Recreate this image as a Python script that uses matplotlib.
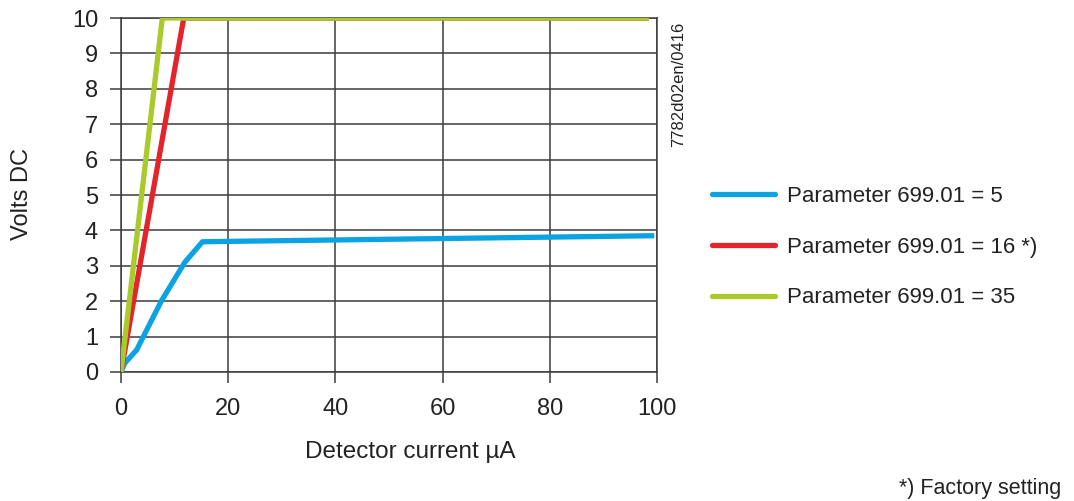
"""Detector current vs output voltage for three settings of parameter 699.01."""

import matplotlib

matplotlib.use("Agg")
import matplotlib.pyplot as plt

# curves (x: detector current in uA, y: volts DC)
p5_x = [0, 0.7, 2.9, 7.5, 11.9, 15.2, 99.5]
p5_y = [0.0, 0.25, 0.62, 2.0, 3.1, 3.68, 3.85]

p16_x = [0, 11.7, 98.5]
p16_y = [0.0, 10.0, 10.0]

p35_x = [0, 7.7, 98.5]
p35_y = [0.0, 10.0, 10.0]

labels = [
    "Parameter 699.01 = 5",
    "Parameter 699.01 = 16 *)",
    "Parameter 699.01 = 35",
]
colors = ["#0ba3e2", "#e3242b", "#a9ca2a"]

x_ticks = [0, 20, 40, 60, 80, 100]
y_ticks = list(range(0, 11))

text_col = "#222222"
grid_col = "#3c3c3c"

plt.rcParams["font.family"] = ["Liberation Sans", "DejaVu Sans"]

fig = plt.figure(figsize=(10.74, 5.01), dpi=100)
ax = fig.add_axes([0.1127, 0.2575, 0.4990, 0.7065])

ax.plot(p5_x, p5_y, color=colors[0], lw=3.8, label=labels[0], solid_capstyle="butt", zorder=3)
ax.plot(p16_x, p16_y, color=colors[1], lw=3.8, label=labels[1], solid_capstyle="butt", zorder=3)
ax.plot(p35_x, p35_y, color=colors[2], lw=3.8, label=labels[2], solid_capstyle="butt", zorder=4)

ax.set_xlim(0, 100)
ax.set_ylim(0, 10)
ax.set_xticks(x_ticks)
ax.set_yticks(y_ticks)
ax.grid(True, color=grid_col, lw=1.1)
ax.set_axisbelow(True)
for sp in ax.spines.values():
    sp.set_color(grid_col)
    sp.set_linewidth(1.1)
ax.tick_params(direction="out", length=8, width=1.1, color=grid_col,
               labelsize=17, labelcolor=text_col, pad=8.5)
ax.tick_params(axis="x", pad=11)

fig.text(0.3818, 0.0978, "Detector current µA", fontsize=17.5, color=text_col,
         ha="center", va="center")
fig.text(0.0205, 0.6128, "Volts DC", fontsize=17, color=text_col,
         ha="center", va="center", rotation=90)

ax.text(1.041, 0.99, "7782d02en/0416", transform=ax.transAxes, rotation=90,
        ha="center", va="top", fontsize=12, color=text_col)

leg = fig.legend(loc="upper left", bbox_to_anchor=(0.663, 0.629), frameon=False,
                 fontsize=16, handlelength=2.84, handletextpad=0.54,
                 labelspacing=1.34, borderaxespad=0, borderpad=0)
for t in leg.get_texts():
    t.set_color(text_col)
for h in leg.get_lines():
    h.set_solid_capstyle("round")

fig.text(0.988, 0.004, "*) Factory setting", ha="right", va="bottom",
         fontsize=15.5, color=text_col)

fig.savefig("out.png", dpi=100)
